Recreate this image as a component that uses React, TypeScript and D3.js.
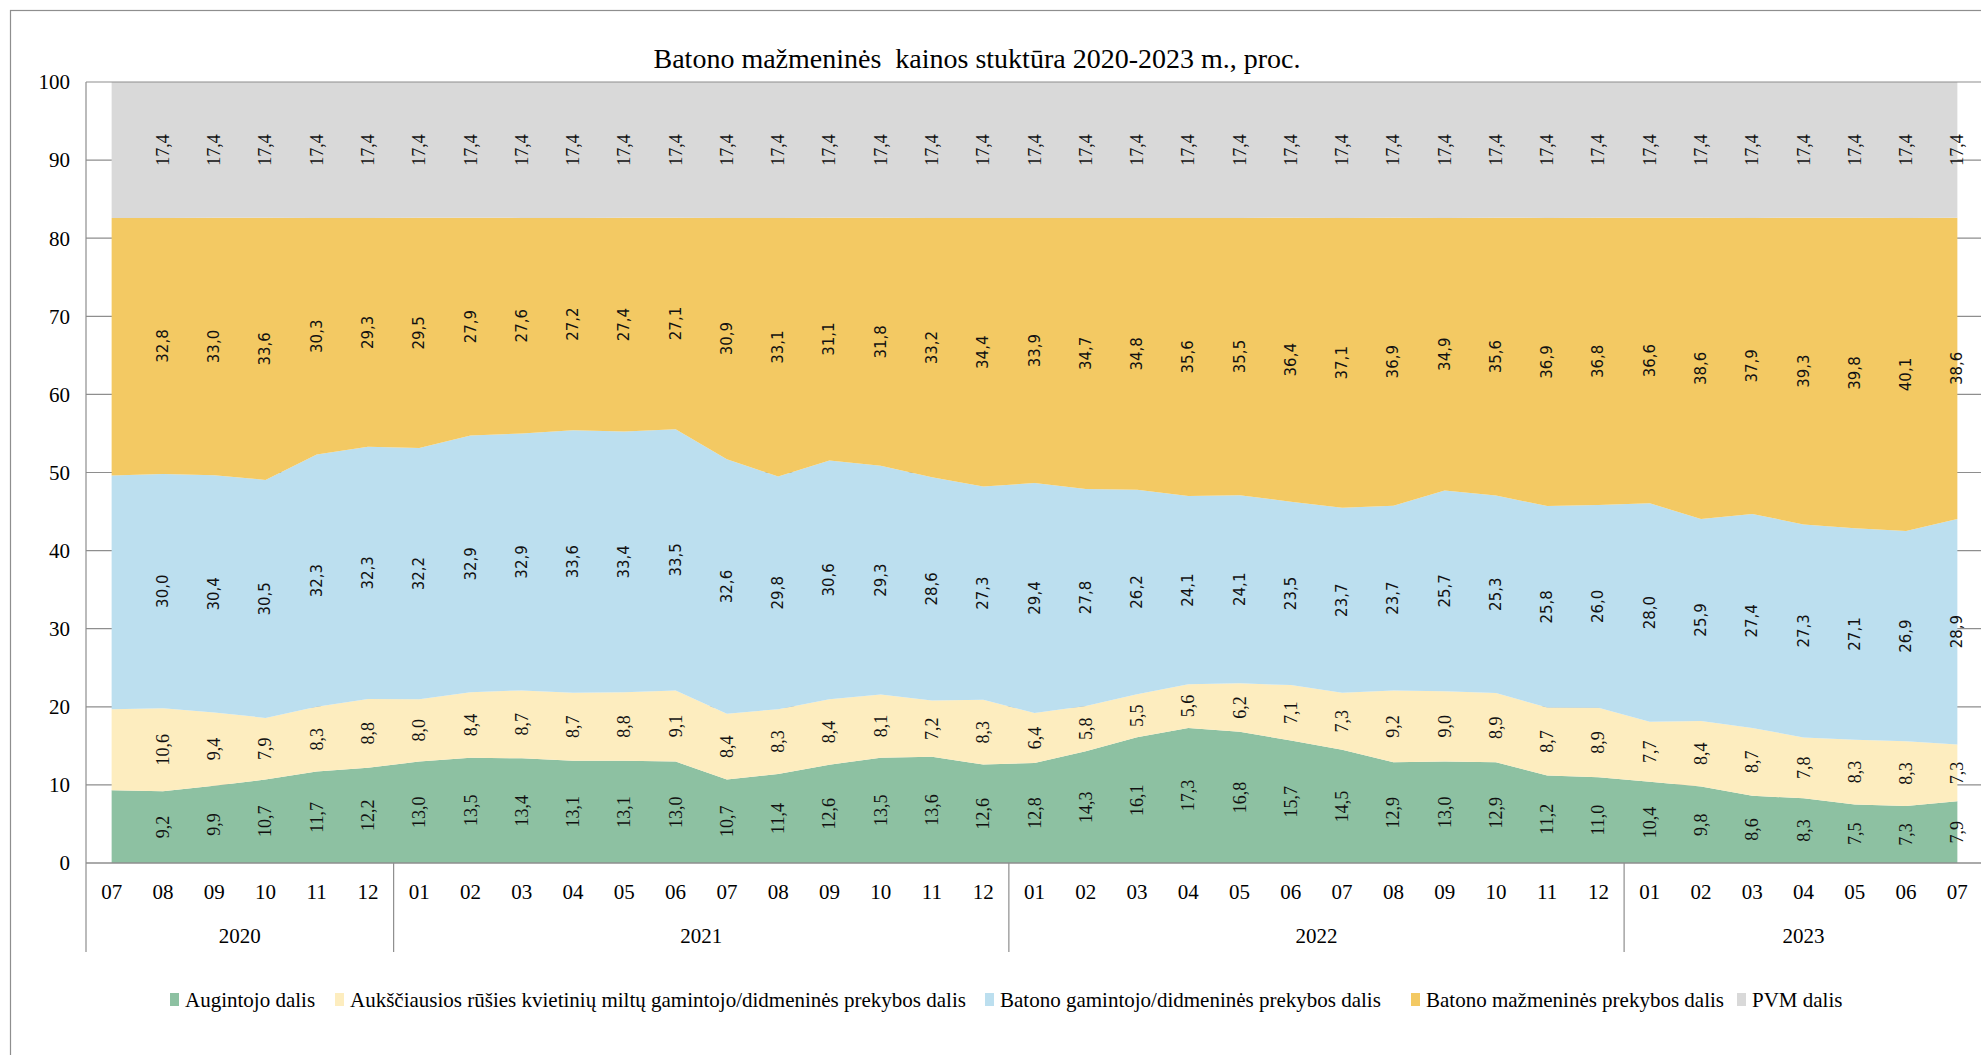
import React from 'react';
import * as d3 from 'd3';

// ---------- data ----------
const months = [
  '07', '08', '09', '10', '11', '12',
  '01', '02', '03', '04', '05', '06', '07', '08', '09', '10', '11', '12',
  '01', '02', '03', '04', '05', '06', '07', '08', '09', '10', '11', '12',
  '01', '02', '03', '04', '05', '06', '07',
];
const yearLabels = ['2020', '2021', '2022', '2023'];
const yearMonthCounts = [6, 12, 12, 7];

const seriesNames = [
  'Augintojo dalis',
  'Aukščiausios rūšies kvietinių miltų gamintojo/didmeninės prekybos dalis',
  'Batono gamintojo/didmeninės prekybos dalis',
  'Batono mažmeninės prekybos dalis',
  'PVM dalis',
];

const augintojo = [
  9.3, 9.2, 9.9, 10.7, 11.7, 12.2,
  13.0, 13.5, 13.4, 13.1, 13.1, 13.0, 10.7, 11.4, 12.6, 13.5, 13.6, 12.6,
  12.8, 14.3, 16.1, 17.3, 16.8, 15.7, 14.5, 12.9, 13.0, 12.9, 11.2, 11.0,
  10.4, 9.8, 8.6, 8.3, 7.5, 7.3, 7.9,
];
const miltai = [
  10.4, 10.6, 9.4, 7.9, 8.3, 8.8,
  8.0, 8.4, 8.7, 8.7, 8.8, 9.1, 8.4, 8.3, 8.4, 8.1, 7.2, 8.3,
  6.4, 5.8, 5.5, 5.6, 6.2, 7.1, 7.3, 9.2, 9.0, 8.9, 8.7, 8.9,
  7.7, 8.4, 8.7, 7.8, 8.3, 8.3, 7.3,
];
const gamintojo = [
  29.9, 30.0, 30.4, 30.5, 32.3, 32.3,
  32.2, 32.9, 32.9, 33.6, 33.4, 33.5, 32.6, 29.8, 30.6, 29.3, 28.6, 27.3,
  29.4, 27.8, 26.2, 24.1, 24.1, 23.5, 23.7, 23.7, 25.7, 25.3, 25.8, 26.0,
  28.0, 25.9, 27.4, 27.3, 27.1, 26.9, 28.9,
];
const mazmenine = [
  33.0, 32.8, 33.0, 33.6, 30.3, 29.3,
  29.5, 27.9, 27.6, 27.2, 27.4, 27.1, 30.9, 33.1, 31.1, 31.8, 33.2, 34.4,
  33.9, 34.7, 34.8, 35.6, 35.5, 36.4, 37.1, 36.9, 34.9, 35.6, 36.9, 36.8,
  36.6, 38.6, 37.9, 39.3, 39.8, 40.1, 38.6,
];
const pvm = [
  17.4, 17.4, 17.4, 17.4, 17.4, 17.4,
  17.4, 17.4, 17.4, 17.4, 17.4, 17.4, 17.4, 17.4, 17.4, 17.4, 17.4, 17.4,
  17.4, 17.4, 17.4, 17.4, 17.4, 17.4, 17.4, 17.4, 17.4, 17.4, 17.4, 17.4,
  17.4, 17.4, 17.4, 17.4, 17.4, 17.4, 17.4,
];
const yTicks = [0, 10, 20, 30, 40, 50, 60, 70, 80, 90, 100];
const firstLabelledIndex = 1; // first month carries no data labels

// ---------- style / layout ----------
const COLORS = ['#8DC1A2', '#FDEDBF', '#BCDFEF', '#F3C963', '#D9D9D9'];
const SERIF = '"Liberation Serif", "Times New Roman", serif';
const SANS = '"DejaVu Sans", Verdana, sans-serif';
const LABEL_FONT = [SERIF, SERIF, SANS, SANS, SERIF];
const LABEL_SIZE = [18, 18, 15, 15, 18];
const GRID = '#8E8E8E';
const LEGEND_MARKER_X = [170, 335, 985, 1411, 1737];

const W = 1981;
const H = 1055;
const PL = 86;
const PR = 1983;
const PT = 82;
const PB = 863;

export default function App() {
  const keys = ['a', 'b', 'c', 'd', 'e'];
  const table = months.map((m, i) => ({
    i,
    a: augintojo[i],
    b: miltai[i],
    c: gamintojo[i],
    d: mazmenine[i],
    e: pvm[i],
  }));
  // 100 % stacked area
  const stacked = d3.stack<any>().keys(keys).offset(d3.stackOffsetExpand)(table);

  const x = d3
    .scaleBand<number>()
    .domain(d3.range(months.length))
    .range([PL, PR])
    .paddingInner(0)
    .paddingOuter(0);
  const cx = (i: number) => (x(i) as number) + x.bandwidth() / 2;
  const y = d3.scaleLinear().domain([0, 1]).range([PB, PT]);
  const yp = (t: number) => y(t / 100);

  const area = d3
    .area<any>()
    .x((d) => cx(d.data.i))
    .y0((d) => y(d[0]))
    .y1((d) => y(d[1]))
    .curve(d3.curveLinear);

  const fmt = (v: number) => d3.format('.1f')(v).replace('.', ',');

  const boundaries: number[] = [0];
  yearMonthCounts.forEach((c) => boundaries.push(boundaries[boundaries.length - 1] + c));
  const bx = (k: number) => (k >= months.length ? PR : (x(k) as number));

  return (
    <svg
      width={W}
      height={H}
      style={{ position: 'absolute', left: 0, top: 0, background: '#fff' }}
      xmlns="http://www.w3.org/2000/svg"
    >
      <defs>
        <clipPath id="plotClip">
          <rect x={PL} y={PT} width={PR - PL} height={PB - PT} />
        </clipPath>
      </defs>
      <rect x={0} y={0} width={W} height={H} fill="#fff" />
      <rect x={10.5} y={10.5} width={W + 100} height={H + 100} fill="none" stroke={GRID} strokeWidth={1.2} />

      <text
        x={977}
        y={68}
        textAnchor="middle"
        fontFamily={SERIF}
        fontSize={28}
        fill="#000"
        style={{ whiteSpace: 'pre' }}
      >
        {'Batono mažmeninės  kainos stuktūra 2020-2023 m., proc.'}
      </text>

      {yTicks
        .filter((t) => t !== 0 && t !== 100)
        .map((t) => (
          <line key={t} x1={PL} x2={PR} y1={yp(t)} y2={yp(t)} stroke={GRID} strokeWidth={1.2} />
        ))}

      <g clipPath="url(#plotClip)">
        {stacked.map((s, k) => (
          <path key={s.key} d={area(s as any) || ''} fill={COLORS[k]} stroke="none" />
        ))}
      </g>

      <line x1={PL} x2={PR} y1={yp(100)} y2={yp(100)} stroke={GRID} strokeWidth={1.2} />
      <line x1={PL} x2={PR} y1={yp(0)} y2={yp(0)} stroke={GRID} strokeWidth={1.4} />
      <line x1={PL} x2={PL} y1={PT} y2={952} stroke={GRID} strokeWidth={1.2} />

      {yTicks.map((t) => (
        <text
          key={t}
          x={70}
          y={yp(t)}
          dy="0.35em"
          textAnchor="end"
          fontFamily={SERIF}
          fontSize={21}
          fill="#000"
        >
          {t}
        </text>
      ))}

      {stacked.map((s, k) =>
        s.map((d: any, i: number) => {
          if (i < firstLabelledIndex) return null;
          const yc = y((d[0] + d[1]) / 2);
          const xc = cx(i);
          return (
            <text
              key={`${k}-${i}`}
              transform={`translate(${xc},${yc}) rotate(-90)`}
              textAnchor="middle"
              dominantBaseline="central"
              fontFamily={LABEL_FONT[k]}
              fontSize={LABEL_SIZE[k]}
              fill="#111"
            >
              {fmt(d.data[keys[k]])}
            </text>
          );
        })
      )}

      {months.map((m, i) => (
        <text
          key={i}
          x={cx(i)}
          y={899}
          textAnchor="middle"
          fontFamily={SERIF}
          fontSize={21}
          fill="#000"
        >
          {m}
        </text>
      ))}

      {boundaries.slice(1).map((b, j) => (
        <line key={j} x1={bx(b)} x2={bx(b)} y1={PB} y2={952} stroke={GRID} strokeWidth={1.2} />
      ))}
      {yearLabels.map((yl, j) => (
        <text
          key={yl}
          x={(bx(boundaries[j]) + bx(boundaries[j + 1])) / 2}
          y={943}
          textAnchor="middle"
          fontFamily={SERIF}
          fontSize={21}
          fill="#000"
        >
          {yl}
        </text>
      ))}

      {seriesNames.map((name, k) => (
        <g key={k}>
          <rect x={LEGEND_MARKER_X[k]} y={993} width={9} height={13} fill={COLORS[k]} />
          <text x={LEGEND_MARKER_X[k] + 15} y={1007} fontFamily={SERIF} fontSize={21} fill="#000">
            {name}
          </text>
        </g>
      ))}
    </svg>
  );
}
